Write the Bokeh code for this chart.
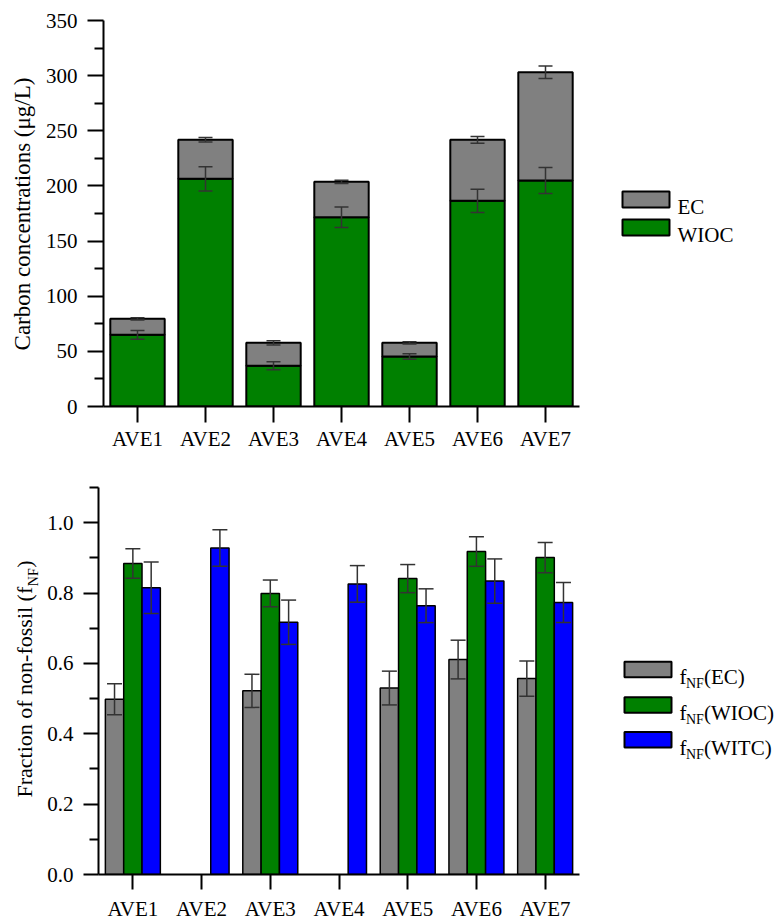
from bokeh.plotting import figure
from bokeh.layouts import column, row
from bokeh.models import (ColumnDataSource, FactorRange, FixedTicker, NumeralTickFormatter,
                          Label, Range1d)
from bokeh.transform import dodge
from bokeh.embed import file_html
from bokeh.resources import INLINE

# ---------------- data ----------------
cats = ["AVE1", "AVE2", "AVE3", "AVE4", "AVE5", "AVE6", "AVE7"]

# top panel: carbon concentrations (ug/L), stacked WIOC + EC
wioc = [65.0, 206.4, 36.9, 171.6, 45.3, 186.5, 204.9]
ec = [14.5, 35.4, 20.8, 32.1, 12.4, 55.3, 98.1]
wioc_err = [4.0, 11.0, 3.6, 9.4, 2.5, 10.6, 11.8]
ec_err = [1.0, 2.0, 2.0, 1.5, 1.0, 3.0, 5.7]

# bottom panel: fraction of non-fossil
fnf_ec = [0.498, None, 0.522, None, 0.530, 0.611, 0.557]
fnf_ec_err = [0.044, None, 0.047, None, 0.048, 0.055, 0.050]
fnf_wioc = [0.884, None, 0.799, None, 0.841, 0.918, 0.901]
fnf_wioc_err = [0.042, None, 0.038, None, 0.040, 0.042, 0.043]
fnf_witc = [0.815, 0.928, 0.717, 0.826, 0.764, 0.834, 0.773]
fnf_witc_err = [0.073, 0.052, 0.063, 0.052, 0.048, 0.063, 0.057]

top_ticks = [0, 50, 100, 150, 200, 250, 300, 350]
top_minor = [25, 75, 125, 175, 225, 275, 325]
bot_ticks = [0.0, 0.2, 0.4, 0.6, 0.8, 1.0]
bot_minor = [0.1, 0.3, 0.5, 0.7, 0.9, 1.1]

# ---------------- style / layout ----------------
FONT = "Liberation Serif"
GRAY, GREEN, BLUE = "#808080", "#008000", "#0000ff"
ERR = "#333333"
H_TOP, H_BOT = 460, 464
W_L, W_M, W_R = 42, 558, 178      # label strip, main plot, legend strip
XM = W_L                          # page x of main figure
XR = W_L + W_M                    # page x of legend strip
YB = H_TOP                        # page y of bottom row
FRAME_L, FRAME_R = 98, 579        # page x of plot frame edges
T_TOP, T_BOT = 20, 406            # page y of top frame edges
B_TOP, B_BOT = 486.7, 874         # page y of bottom frame edges
MID = 0.3375                      # middle of text box above baseline (em)


def style_axes(p, tick_out, minor_out, x_standoff):
    for ax in (p.xaxis[0], p.yaxis[0]):
        ax.axis_line_width = 2
        ax.axis_line_color = "black"
        ax.major_tick_line_width = 2
        ax.major_tick_line_color = "black"
        ax.minor_tick_line_width = 2
        ax.minor_tick_line_color = "black"
        ax.major_tick_in = 0
        ax.minor_tick_in = 0
        ax.major_tick_out = tick_out
        ax.minor_tick_out = minor_out
        ax.major_label_text_font = FONT
        ax.major_label_text_font_size = "21px"
        ax.major_label_text_color = "black"
        ax.axis_label = None
    p.xaxis[0].major_label_standoff = x_standoff
    p.yaxis[0].major_label_standoff = 10
    p.xgrid.visible = False
    p.ygrid.visible = False
    p.outline_line_color = None


def strip(width, height, x0, ftop, fbot):
    """blank figure; its frame is aligned with the main plot frame (ftop..fbot),
    data coordinates are page pixels."""
    f = figure(width=width, height=height, x_range=Range1d(x0, x0 + width),
               y_range=Range1d(fbot, ftop), x_axis_type=None, y_axis_type=None,
               output_backend="svg", toolbar_location=None, min_border=0)
    f.xgrid.visible = False
    f.ygrid.visible = False
    f.outline_line_color = None
    return f


def txt(f, x, y, text, size, align="left", baseline="alphabetic", angle=0):
    f.add_layout(Label(x=x, y=y, text=text, text_font=FONT, text_font_size=f"{size}px",
                       text_align=align, text_baseline=baseline, angle=angle,
                       angle_units="deg", text_color="black"))


def vtxt(f, base_x, y, text, size, align):
    """rotated text whose baseline lies at page x = base_x"""
    txt(f, base_x - MID * size, y, text, size, align=align, baseline="middle", angle=90)


# ---------------- top main figure ----------------
p1 = figure(width=W_M, height=H_TOP, x_range=FactorRange(factors=cats, range_padding=0),
            y_range=Range1d(0, 350), output_backend="svg", toolbar_location=None,
            min_border_left=FRAME_L - XM, min_border_right=XR - FRAME_R, min_border_top=T_TOP,
            min_border_bottom=H_TOP - T_BOT)
src1 = ColumnDataSource(dict(cats=cats, WIOC=wioc, EC=ec))
p1.vbar_stack(["WIOC", "EC"], x="cats", width=0.8, source=src1, color=[GREEN, GRAY],
              line_color="black", line_width=2)

total = [a + b for a, b in zip(wioc, ec)]
err1 = ColumnDataSource(dict(
    cats=cats + cats,
    lo=[v - e for v, e in zip(wioc, wioc_err)] + [v - e for v, e in zip(total, ec_err)],
    hi=[v + e for v, e in zip(wioc, wioc_err)] + [v + e for v, e in zip(total, ec_err)],
))
p1.segment(x0="cats", x1="cats", y0="lo", y1="hi", source=err1, line_color=ERR, line_width=1.5)
p1.scatter(x="cats", y="lo", marker="dash", size=14, source=err1, line_color=ERR, line_width=1.5)
p1.scatter(x="cats", y="hi", marker="dash", size=14, source=err1, line_color=ERR, line_width=1.5)

p1.yaxis[0].ticker = FixedTicker(ticks=top_ticks, minor_ticks=top_minor)
style_axes(p1, 16, 9, 4)

l1 = strip(W_L, H_TOP, 0, T_TOP, T_BOT)
vtxt(l1, 30, 213.5, "Carbon concentrations (\u03bcg/L)", 23, "center")

r1 = strip(W_R, H_TOP, XR, T_TOP, T_BOT)
for name, color, y0 in [("EC", GRAY, 191), ("WIOC", GREEN, 219)]:
    r1.quad(left=622, right=669, top=y0, bottom=y0 + 16,
            fill_color=color, line_color="black", line_width=2)
    txt(r1, 677, y0 + 15, name, 21)

# ---------------- bottom main figure ----------------
p2 = figure(width=W_M, height=H_BOT, x_range=FactorRange(factors=cats, range_padding=0),
            y_range=Range1d(0, 1.1), output_backend="svg", toolbar_location=None,
            min_border_left=FRAME_L - XM, min_border_right=XR - FRAME_R,
            min_border_top=round(B_TOP - YB), min_border_bottom=round(H_BOT - (B_BOT - YB)))

series = [(fnf_ec, fnf_ec_err, GRAY, -0.2667), (fnf_wioc, fnf_wioc_err, GREEN, 0.0),
          (fnf_witc, fnf_witc_err, BLUE, 0.2667)]
for vals, errs, color, off in series:
    keep = [i for i, v in enumerate(vals) if v is not None]
    s = ColumnDataSource(dict(
        cats=[cats[i] for i in keep],
        top=[vals[i] for i in keep],
        lo=[vals[i] - errs[i] for i in keep],
        hi=[vals[i] + errs[i] for i in keep],
    ))
    xd = dodge("cats", off, range=p2.x_range)
    p2.vbar(x=xd, top="top", width=0.2667, source=s, fill_color=color,
            line_color="black", line_width=1.5)
    p2.segment(x0=xd, x1=xd, y0="lo", y1="hi", source=s, line_color=ERR, line_width=1.5)
    p2.scatter(x=xd, y="lo", marker="dash", size=15, source=s, line_color=ERR, line_width=1.5)
    p2.scatter(x=xd, y="hi", marker="dash", size=15, source=s, line_color=ERR, line_width=1.5)

p2.yaxis[0].ticker = FixedTicker(ticks=bot_ticks, minor_ticks=bot_minor)
p2.yaxis[0].formatter = NumeralTickFormatter(format="0.0")
style_axes(p2, 15, 9, 7)

l2 = strip(W_L, H_BOT, 0, B_TOP, B_BOT)
vtxt(l2, 31.7, 586, "Fraction of non-fossil (f", 22, "right")
vtxt(l2, 38.0, 585.5, "NF", 14, "left")
vtxt(l2, 31.7, 567, ")", 22, "left")

r2 = strip(W_R, H_BOT, XR, B_TOP, B_BOT)
for name, color, y0 in [("EC", GRAY, 661), ("WIOC", GREEN, 696.5), ("WITC", BLUE, 731.5)]:
    r2.quad(left=624, right=671, top=y0, bottom=y0 + 15.5,
            fill_color=color, line_color="black", line_width=2)
    base = y0 + 15.5
    txt(r2, 679, base, "f", 21)
    txt(r2, 685.5, base + 6.5, "NF", 14)
    txt(r2, 703.5, base, "(" + name + ")", 21)

layout = column(row(l1, p1, r1, spacing=0), row(l2, p2, r2, spacing=0), spacing=0)
open("out.html", "w").write(file_html(layout, INLINE))
